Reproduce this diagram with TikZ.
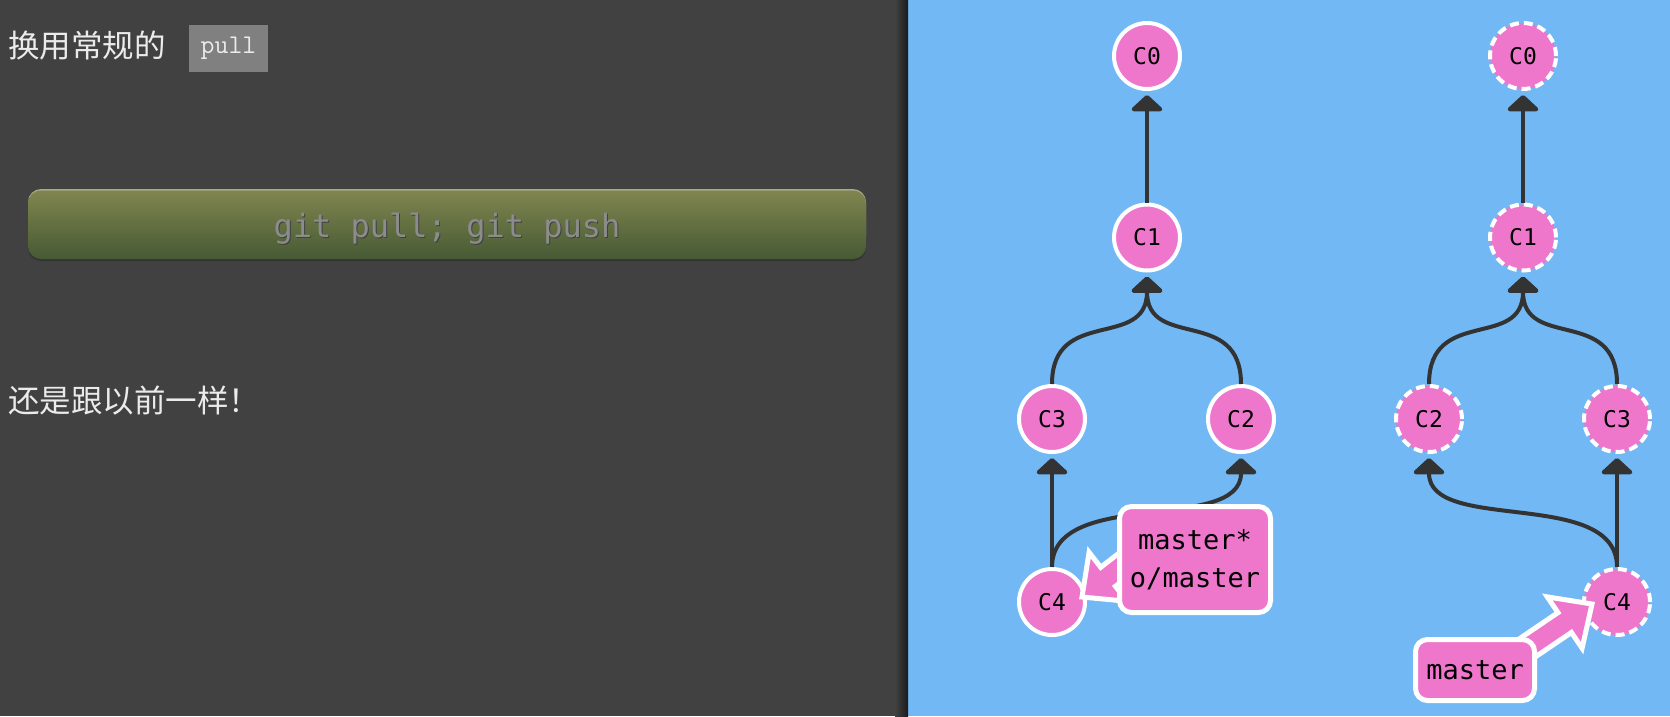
\documentclass[tikz,border=0pt]{standalone}
\usepackage{fontspec}
\newfontfamily\cjk{Noto Sans CJK SC}
\newfontfamily\dmono{DejaVu Sans Mono}
\usetikzlibrary{arrows.meta,calc}
\definecolor{bgL}{HTML}{414141}
\definecolor{bgR}{HTML}{72B8F4}
\definecolor{cpink}{HTML}{EE77CC}
\definecolor{edgec}{HTML}{333333}
\definecolor{btnTop}{HTML}{80854F}
\definecolor{btnBot}{HTML}{465A34}
\definecolor{btnTxt}{HTML}{8C8C8C}
\tikzset{
  commit/.style={circle, fill=cpink, draw=white, line width=4pt, inner sep=0pt, minimum size=66pt, font=\dmono\fontsize{23}{26}\selectfont, text=black},
  ghost/.style={commit, dash pattern=on 9pt off 5pt},
  parentedge/.style={draw=edgec, line width=4pt, shorten >=4pt, -{Triangle[width=36pt,length=17pt,round]}},
  label/.style={rectangle, rounded corners=12pt, fill=cpink, draw=white, line width=5pt, font=\dmono\fontsize{27}{38}\selectfont, text=black, align=center, inner sep=0pt},
  fatarrow/.style={fill=cpink, draw=white, line width=5pt, line join=miter},
  cjktext/.style={font=\cjk\fontsize{31.5}{34}\selectfont, text=white!92!black, anchor=west, inner sep=0pt}
}
\begin{document}
\begin{tikzpicture}[x=1pt,y=-1pt]
\useasboundingbox (0,0) rectangle (1670,716);
% panels
\fill[bgL] (0,0) rectangle (908,716);
\fill[bgR] (908,0) rectangle (1670,716);
\shade[left color=bgL, right color=black!60!bgL] (895,0) rectangle (908,716);
% left panel
\node[cjktext] (t1) at (8,46) {换用常规的};
\node[rectangle, fill=black!50, draw=black!75, line width=1.5pt, minimum width=80pt, minimum height=48pt, inner sep=0pt, text=white!92!black, font=\ttfamily\fontsize{27}{30}\selectfont] (pull) at (228.5,48.5) {pull};
\fill[black!80, rounded corners=13pt] (28,193) rectangle (866,261);
\fill[btnTop!70!white, rounded corners=13pt] (28,189) rectangle (866,250);
\shade[top color=btnTop, bottom color=btnBot, rounded corners=13pt] (28,190.5) rectangle (866,259);
\node[text=black!75, font=\dmono\fontsize{32}{36}\selectfont, inner sep=0pt] (btnshadow) at (448,230) {git pull; git push};
\node[text=btnTxt, font=\dmono\fontsize{32}{36}\selectfont, inner sep=0pt] (btntext) at (447,228.5) {git pull; git push};
\node[cjktext] (t2) at (8,401) {还是跟以前一样！};
% left tree
\node[commit] (l0) at (1147,56) {C0};
\node[commit] (l1) at (1147,237.5) {C1};
\node[commit] (l3) at (1052,419) {C3};
\node[commit] (l2) at (1241,419) {C2};
\node[commit] (l4) at (1052,602) {C4};
\draw[parentedge] (l1.north) -- (l0.south);
\draw[parentedge] (l3.north) .. controls +(0,-78) and +(0,78) .. (l1.south);
\draw[parentedge] (l2.north) .. controls +(0,-78) and +(0,78) .. (l1.south);
\draw[parentedge] (l4.north) -- (l3.south);
\draw[parentedge] (l4.north) .. controls +(0,-80) and +(0,80) .. (l2.south);
% right tree
\node[ghost] (r0) at (1523,56) {C0};
\node[ghost] (r1) at (1523,237.5) {C1};
\node[ghost] (r2) at (1429,419) {C2};
\node[ghost] (r3) at (1617,419) {C3};
\node[ghost] (r4) at (1617,602) {C4};
\draw[parentedge] (r1.north) -- (r0.south);
\draw[parentedge] (r2.north) .. controls +(0,-78) and +(0,78) .. (r1.south);
\draw[parentedge] (r3.north) .. controls +(0,-78) and +(0,78) .. (r1.south);
\draw[parentedge] (r4.north) -- (r3.south);
\draw[parentedge] (r4.north) .. controls +(0,-80) and +(0,80) .. (r2.south);
% fat arrows
\coordinate (tl) at (1082,597);
\coordinate (sl) at (1140,552);
\coordinate (hl) at ($(tl)!33pt!(sl)$);
\draw[fatarrow] (tl) -- ($(hl)!31pt!90:(sl)$) -- ($(hl)!12pt!90:(sl)$) -- ($(sl)!12pt!-90:(hl)$) -- ($(sl)!12pt!90:(hl)$) -- ($(hl)!12pt!-90:(sl)$) -- ($(hl)!31pt!-90:(sl)$) -- cycle;
\coordinate (tr) at (1592,604);
\coordinate (sr) at (1505,663);
\coordinate (hr) at ($(tr)!33pt!(sr)$);
\draw[fatarrow] (tr) -- ($(hr)!31pt!90:(sr)$) -- ($(hr)!12pt!90:(sr)$) -- ($(sr)!12pt!-90:(hr)$) -- ($(sr)!12pt!90:(hr)$) -- ($(hr)!12pt!-90:(sr)$) -- ($(hr)!31pt!-90:(sr)$) -- cycle;
% labels
\node[label, minimum width=151pt, minimum height=106pt] (lab1) at (1195,559.5) {master*\\o/master};
\node[label, minimum width=119pt, minimum height=61pt] (lab2) at (1475,670) {master};
\end{tikzpicture}
\end{document}
